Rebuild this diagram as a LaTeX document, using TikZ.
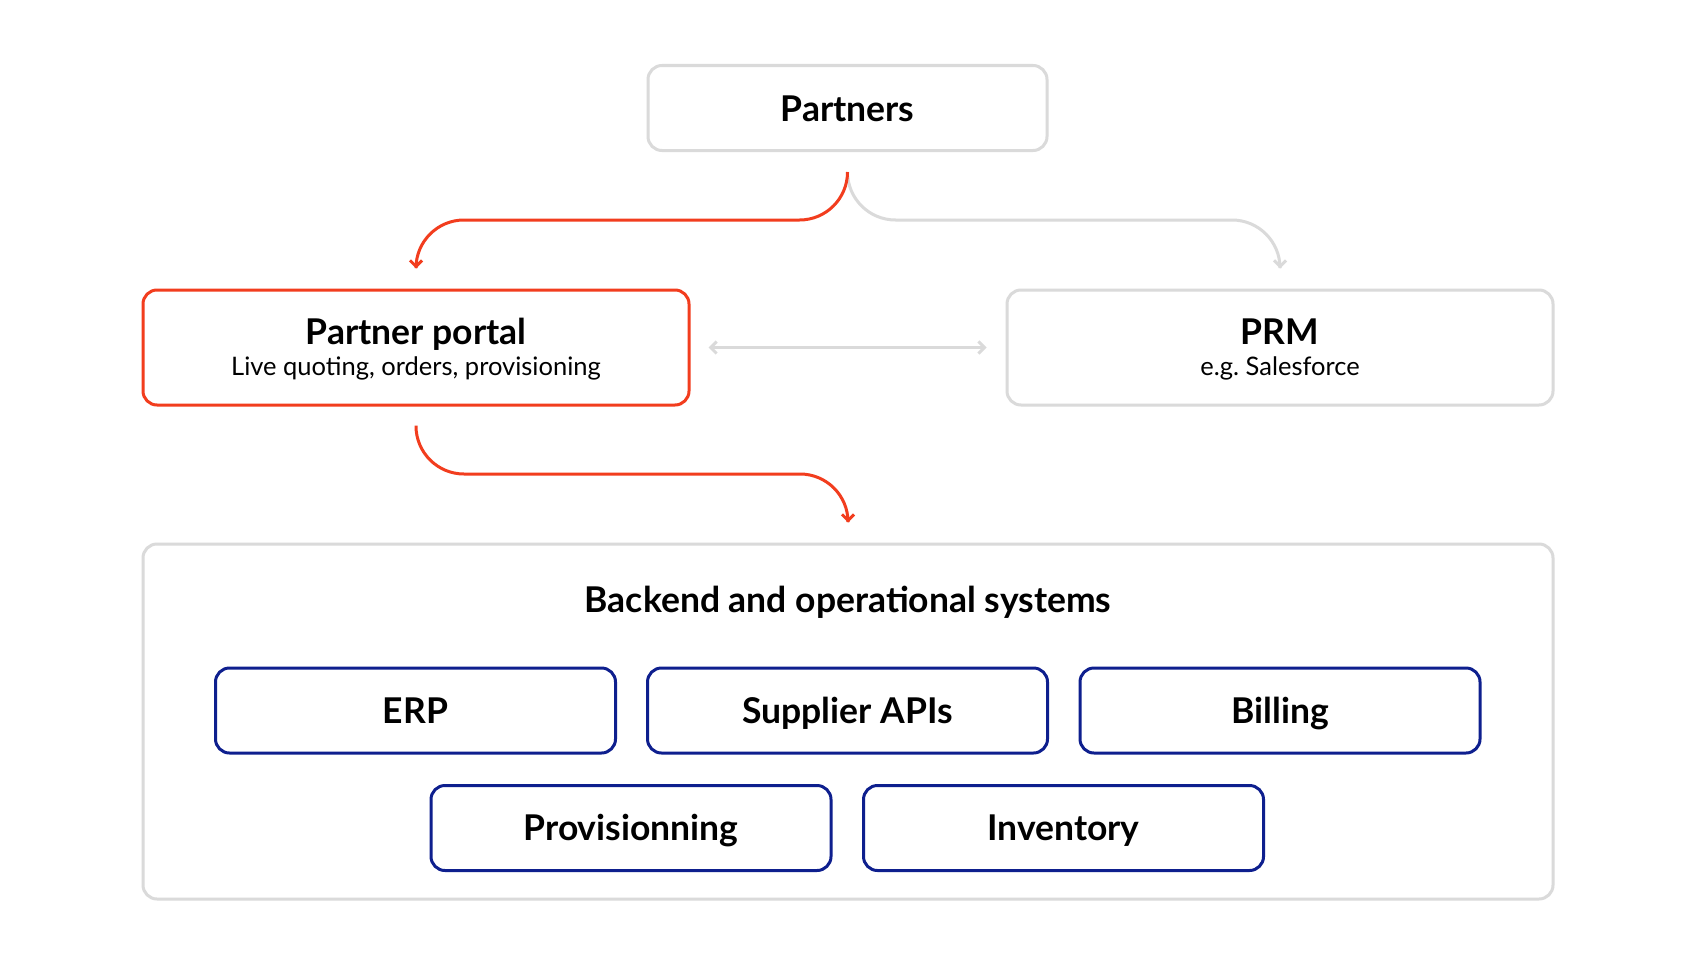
\documentclass[tikz,border=0pt]{standalone}
\usepackage{fontspec}
\setmainfont{Lato}
\usetikzlibrary{arrows.meta}
\definecolor{accent}{HTML}{F23D1E}
\definecolor{soft}{HTML}{DADADA}
\definecolor{navy}{HTML}{0E1F8E}
\begin{document}
\begin{tikzpicture}[x=1pt,y=-1pt,
  box/.style={draw, line width=3pt, rounded corners=14pt, inner sep=0pt, fill=white},
  greybox/.style={box, draw=soft},
  redbox/.style={box, draw=accent},
  navybox/.style={box, draw=navy, minimum width=400pt, minimum height=85pt},
  ttl/.style={font=\fontsize{35.5}{38}\selectfont\bfseries, text=black, anchor=base, inner sep=0pt},
  sub/.style={font=\fontsize{25.5}{28}\selectfont, text=black, anchor=base, inner sep=0pt},
  conn/.style={line width=3pt, rounded corners=48pt, -{Straight Barb[length=6pt,width=12pt,line width=3pt]}},
  dconn/.style={line width=3pt, {Straight Barb[length=6pt,width=12pt,line width=3pt]}-{Straight Barb[length=6pt,width=12pt,line width=3pt]}}
]
\useasboundingbox (0,0) rectangle (1696,966);
\fill[white] (0,0) rectangle (1696,966);

\node[greybox, minimum width=399pt, minimum height=85pt] (partners) at (847.5,108) {};
\node[ttl] (partnerst) at (847.5,121) {Partners};

\node[redbox, minimum width=546pt, minimum height=115pt] (portal) at (416,347.5) {};
\node[ttl] (portalt) at (416,344) {Partner portal};
\node[sub] (portals) at (416,375) {Live quoting, orders, provisioning};

\node[greybox, minimum width=546pt, minimum height=115pt] (prm) at (1280,347.5) {};
\node[ttl] (prmt) at (1280,344) {PRM};
\node[sub] (prms) at (1280,375) {e.g.\ Salesforce};

\node[greybox, minimum width=1410pt, minimum height=355pt] (backend) at (848,721.5) {};
\node[ttl] (backendt) at (848,612) {Backend and operational systems};

\node[navybox] (erp) at (415.5,710.5) {};
\node[ttl] (erpt) at (415.5,723) {ERP};
\node[navybox] (supplier) at (847.5,710.5) {};
\node[ttl] (suppliert) at (847.5,723) {Supplier APIs};
\node[navybox] (billing) at (1280,710.5) {};
\node[ttl] (billingt) at (1280,723) {Billing};
\node[navybox] (prov) at (631,828) {};
\node[ttl] (provt) at (631,840.5) {Provisionning};
\node[navybox] (inv) at (1063.5,828) {};
\node[ttl] (invt) at (1063.5,840.5) {Inventory};

% connectors
\coordinate (ps) at ([yshift=-20pt]partners.south);
\draw[conn, soft] (ps) -- (ps |- 0,220) -- (prm.north |- 0,220) -- ([yshift=20pt]prm.north);
\draw[conn, accent] (ps) -- (ps |- 0,220) -- (portal.north |- 0,220) -- ([yshift=20pt]portal.north);
\draw[dconn, soft] ([xshift=18pt]portal.east) -- ([xshift=-19pt]prm.west);
\coordinate (pos) at ([yshift=-19pt]portal.south);
\draw[conn, accent] (pos) -- (pos |- 0,474) -- (backend.north |- 0,474) -- ([yshift=20pt]backend.north);
\end{tikzpicture}
\end{document}
